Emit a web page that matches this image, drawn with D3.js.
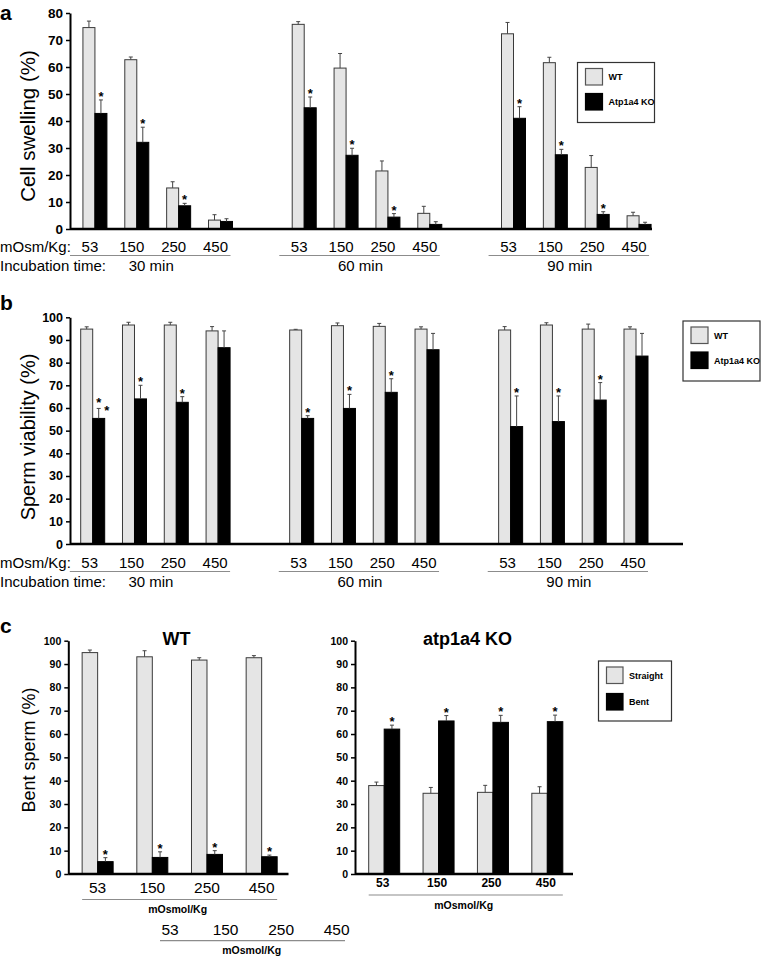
<!DOCTYPE html>
<html><head><meta charset="utf-8">
<script src="https://cdn.jsdelivr.net/npm/d3@7"></script>
<style>
html,body{margin:0;padding:0;background:#fff;}
svg{display:block;}
text{font-family:"Liberation Sans", Arial, sans-serif;fill:#000;}
</style></head>
<body>
<svg id="chart" width="762" height="959"></svg>
<script>
// ---------- DATA ----------
const osmolalities = ["53", "150", "250", "450"];
const incubationTimes = ["30 min", "60 min", "90 min"];

// Panel a: cell swelling (%) — order: 30 min (53,150,250,450), 60 min, 90 min
const swellWT     = [74.6, 62.7, 15.2, 3.3,  75.8, 59.6, 21.5, 5.8,  72.3, 61.6, 22.8, 4.9];
const swellWTErr  = [2.4, 1.0, 2.3, 2.0,     1.0, 5.4, 3.7, 2.6,     4.2, 2.0, 4.4, 1.3];
const swellKO     = [42.8, 32.1, 8.6, 2.8,   44.9, 27.3, 4.4, 1.7,   41.0, 27.5, 5.4, 1.7];
const swellKOErr  = [5.0, 5.6, 0.9, 1.0,     4.0, 2.6, 1.3, 1.0,     4.3, 2.0, 1.0, 0.8];
const swellStars  = [1, 1, 1, 0,  1, 1, 1, 0,  1, 1, 1, 0];

// Panel b: sperm viability (%)
const viabWT      = [94.8, 96.6, 96.6, 94.0,  94.4, 96.3, 96.0, 94.8,  94.4, 96.6, 94.8, 94.8];
const viabWTErr   = [1.0, 1.2, 1.2, 1.9,      0.3, 1.2, 1.3, 1.0,      1.5, 1.0, 2.2, 1.0];
const viabKO      = [55.4, 64.0, 62.5, 86.6,  55.4, 59.8, 66.9, 85.7,  51.8, 54.0, 63.5, 82.9];
const viabKOErr   = [4.4, 6.0, 2.5, 7.4,      1.2, 6.2, 6.0, 7.2,      13.5, 11.3, 7.7, 10.0];
const viabStars   = [2, 1, 1, 0,  1, 1, 1, 0,  1, 1, 1, 0];

// Panel c: bent sperm (%)
const wtStraight     = [94.9, 93.1, 91.7, 92.7];
const wtStraightErr  = [1.1, 2.6, 1.0, 0.9];
const wtBent         = [5.3, 7.1, 8.4, 7.4];
const wtBentErr      = [1.7, 2.4, 1.6, 0.7];
const wtBentStars    = [1, 1, 1, 1];
const koStraight     = [37.9, 34.6, 35.0, 34.6];
const koStraightErr  = [1.5, 2.5, 3.0, 2.8];
const koBent         = [62.1, 65.6, 65.0, 65.3];
const koBentErr      = [1.7, 2.3, 3.0, 2.8];
const koBentStars    = [1, 1, 1, 1];

const ticksA = d3.range(0, 81, 10);
const ticksB = d3.range(0, 101, 10);
const ticksC = d3.range(0, 101, 10);

const legendAB = ["WT", "Atp1a4 KO"];
const legendC = ["Straight", "Bent"];

// ---------- STYLE ----------
const FONT = '"Liberation Sans", Arial, sans-serif';
const LIGHT = "#e5e5e5";
const OUTLINE = "#3a3a3a";
const UNDER = "#8c8c8c";

const svg = d3.select("#chart");

function yAxis(g, y, x0, ticks, fontSize) {
  const ax = g.append("g").attr("transform", `translate(${x0},0)`)
    .call(d3.axisLeft(y).tickValues(ticks).tickSize(4).tickSizeOuter(0).tickPadding(3).tickFormat(d3.format("d")));
  ax.select(".domain").attr("stroke", "#000").attr("stroke-width", 2);
  ax.selectAll(".tick line").attr("stroke", "#000").attr("stroke-width", 1.5);
  ax.selectAll(".tick text").attr("font-family", FONT).attr("font-weight", "bold")
    .attr("font-size", fontSize).attr("fill", "#000");
  return ax;
}

function drawBar(g, cx, w, y, v, err, fill, stars) {
  const y0 = y(0);
  g.append("rect").attr("x", cx - w / 2).attr("y", y(v)).attr("width", w)
    .attr("height", y0 - y(v)).attr("fill", fill)
    .attr("stroke", fill === "#000" ? "#000" : OUTLINE).attr("stroke-width", 1);
  const yt = y(v + err);
  g.append("line").attr("x1", cx).attr("x2", cx).attr("y1", y(v)).attr("y2", yt)
    .attr("stroke", "#444").attr("stroke-width", 1);
  g.append("line").attr("x1", cx - 2).attr("x2", cx + 2).attr("y1", yt).attr("y2", yt)
    .attr("stroke", "#444").attr("stroke-width", 1);
  if (stars === 1) {
    g.append("text").attr("x", cx).attr("y", yt + 1).attr("text-anchor", "middle")
      .attr("font-size", 13).attr("font-weight", "bold").text("*");
  } else if (stars === 2) {
    g.append("text").attr("x", cx).attr("y", yt - 1).attr("text-anchor", "middle")
      .attr("font-size", 13).attr("font-weight", "bold").text("*");
    g.append("text").attr("x", cx + 8).attr("y", yt + 7).attr("text-anchor", "middle")
      .attr("font-size", 13).attr("font-weight", "bold").text("*");
  }
}

function legend(g, x, y, w, h, labels, sw, sh, gap, fs) {
  g.append("rect").attr("x", x).attr("y", y).attr("width", w).attr("height", h)
    .attr("fill", "#fff").attr("stroke", "#333").attr("stroke-width", 1.2);
  labels.forEach((lab, i) => {
    const ry = y + 6 + i * gap;
    g.append("rect").attr("x", x + 8).attr("y", ry).attr("width", sw).attr("height", sh)
      .attr("fill", i === 0 ? LIGHT : "#000").attr("stroke", i === 0 ? "#555" : "#000").attr("stroke-width", 1.2);
    g.append("text").attr("x", x + 8 + sw + 6).attr("y", ry + sh / 2 + 3.5)
      .attr("font-size", fs).attr("font-weight", "bold").text(lab);
  });
}

// Slot keys for the time-course panels
const slots = [];
incubationTimes.forEach((t, ti) => {
  osmolalities.forEach(o => slots.push(t + "|" + o));
  if (ti < incubationTimes.length - 1) slots.push("gap" + ti);
});

function timeCourse(cfg) {
  const g = svg.append("g");
  const x = d3.scaleBand().domain(slots).range(cfg.xRange).padding(0);
  const y = d3.scaleLinear().domain(cfg.yDomain).range(cfg.yRange);
  const bw = 12;
  incubationTimes.forEach((t, ti) => {
    osmolalities.forEach((o, oi) => {
      const i = ti * 4 + oi;
      const c = x(t + "|" + o) + x.bandwidth() / 2;
      drawBar(g, c - bw / 2, bw, y, cfg.wt[i], cfg.wtErr[i], LIGHT, 0);
      drawBar(g, c + bw / 2, bw, y, cfg.ko[i], cfg.koErr[i], "#000", cfg.stars[i]);
    });
  });
  // baseline
  g.append("line").attr("x1", cfg.axisX).attr("x2", cfg.baseEnd).attr("y1", y(0)).attr("y2", y(0))
    .attr("stroke", "#000").attr("stroke-width", 2.5);
  yAxis(g, y, cfg.axisX, cfg.ticks, cfg.tickFont);
  // y title
  g.append("text").attr("transform", `translate(35,${cfg.titleY}) rotate(-90)`)
    .attr("text-anchor", "middle").attr("font-size", cfg.titleSize).text(cfg.title);
  // panel letter
  g.append("text").attr("x", 0).attr("y", cfg.letterY).attr("font-size", 21)
    .attr("font-weight", "bold").text(cfg.letter);
  // x labels
  const ly = cfg.labelY;
  g.append("text").attr("x", 0).attr("y", ly).attr("font-size", 15).text("mOsm/Kg:");
  g.append("text").attr("x", 0).attr("y", ly + 18.5).attr("font-size", 15).text("Incubation time:");
  incubationTimes.forEach((t, ti) => {
    osmolalities.forEach(o => {
      const c = x(t + "|" + o) + x.bandwidth() / 2 + cfg.labelShift;
      g.append("text").attr("x", c).attr("y", ly).attr("text-anchor", "middle")
        .attr("font-size", 15).text(o);
    });
    const xs = x(t + "|" + osmolalities[0]) + cfg.underStart;
    const xe = x(t + "|" + osmolalities[3]) + x.bandwidth() / 2 + cfg.labelShift + 15;
    g.append("line").attr("x1", xs).attr("x2", xe).attr("y1", ly + 3.5).attr("y2", ly + 3.5)
      .attr("stroke", UNDER).attr("stroke-width", 1.2);
    g.append("text").attr("x", (xs + xe) / 2 + 1).attr("y", ly + 18.5).attr("text-anchor", "middle")
      .attr("font-size", 15).text(t);
  });
  legend(g, cfg.leg[0], cfg.leg[1], cfg.leg[2], cfg.leg[3], legendAB, 17, 16.5, 25, 9);
}

timeCourse({
  xRange: [74, 660], yDomain: [0, 80], yRange: [229, 13], axisX: 70, baseEnd: 652,
  wt: swellWT, wtErr: swellWTErr, ko: swellKO, koErr: swellKOErr, stars: swellStars,
  ticks: ticksA, tickFont: 13.5, title: "Cell swelling (%)", titleY: 126, titleSize: 20.5,
  letter: "a", letterY: 19.5, labelY: 252, labelShift: -5, underStart: -4,
  leg: [577.5, 62.5, 77, 60]
});

timeCourse({
  xRange: [71.8, 656.9], yDomain: [0, 100], yRange: [544, 317.3], axisX: 70, baseEnd: 683,
  wt: viabWT, wtErr: viabWTErr, ko: viabKO, koErr: viabKOErr, stars: viabStars,
  ticks: ticksB, tickFont: 12.5, title: "Sperm viability (%)", titleY: 437, titleSize: 20,
  letter: "b", letterY: 310, labelY: 568, labelShift: -3, underStart: -2,
  leg: [683, 321, 77, 60]
});

// ---------- Panel c ----------
function bentPanel(cfg) {
  const g = svg.append("g");
  const x = d3.scaleBand().domain(osmolalities).range(cfg.xRange).padding(0);
  const y = d3.scaleLinear().domain([0, 100]).range([874, 640.7]);
  const bw = 15.5;
  osmolalities.forEach((o, i) => {
    const c = x(o) + x.bandwidth() / 2;
    drawBar(g, c - bw / 2, bw, y, cfg.straight[i], cfg.straightErr[i], LIGHT, 0);
    drawBar(g, c + bw / 2, bw, y, cfg.bent[i], cfg.bentErr[i], "#000", cfg.stars[i]);
    g.append("text").attr("x", c + cfg.labelShift).attr("y", cfg.labelY).attr("text-anchor", "middle")
      .attr("font-size", cfg.labelSize).attr("font-weight", cfg.labelWeight).text(o);
  });
  g.append("line").attr("x1", cfg.axisX).attr("x2", cfg.baseEnd).attr("y1", y(0)).attr("y2", y(0))
    .attr("stroke", "#000").attr("stroke-width", 2.5);
  yAxis(g, y, cfg.axisX, ticksC, 10.5);
  const xs = x(osmolalities[0]) + x.bandwidth() / 2 - bw;
  const xe = x(osmolalities[3]) + x.bandwidth() / 2 + bw;
  g.append("line").attr("x1", xs).attr("x2", xe).attr("y1", cfg.underY).attr("y2", cfg.underY)
    .attr("stroke", UNDER).attr("stroke-width", 1.2);
  g.append("text").attr("x", (xs + xe) / 2 - 2).attr("y", cfg.underY + 13.5).attr("text-anchor", "middle")
    .attr("font-size", 10.5).attr("font-weight", "bold").text("mOsmol/Kg");
  g.append("text").attr("x", cfg.titleX).attr("y", 645).attr("text-anchor", "middle")
    .attr("font-size", 18).attr("font-weight", "bold").text(cfg.title);
  return g;
}

const gcL = bentPanel({
  xRange: [70.3, 289], axisX: 68.3, baseEnd: 288.5,
  straight: wtStraight, straightErr: wtStraightErr, bent: wtBent, bentErr: wtBentErr, stars: wtBentStars,
  labelY: 893, labelSize: 15.5, labelWeight: "normal", labelShift: 0, underY: 899.5,
  title: "WT", titleX: 176.5
});
const gcR = bentPanel({
  xRange: [357, 574.5], axisX: 355, baseEnd: 573,
  straight: koStraight, straightErr: koStraightErr, bent: koBent, bentErr: koBentErr, stars: koBentStars,
  labelY: 887, labelSize: 12, labelWeight: "bold", labelShift: -1.5, underY: 895,
  title: "atp1a4 KO", titleX: 467.5
});

// y title & letter for c
svg.append("text").attr("transform", "translate(35,750) rotate(-90)")
  .attr("text-anchor", "middle").attr("font-size", 18).text("Bent sperm (%)");
svg.append("text").attr("x", 0).attr("y", 633).attr("font-size", 21)
  .attr("font-weight", "bold").text("c");

legend(svg, 598.5, 661, 73, 60, legendC, 16.5, 16.5, 26.5, 9);

// extra osmolality label row under panel c
const xExtra = d3.scalePoint().domain(osmolalities).range([170, 336.7]);
osmolalities.forEach(o => {
  svg.append("text").attr("x", xExtra(o)).attr("y", 935).attr("text-anchor", "middle")
    .attr("font-size", 15.5).text(o);
});
svg.append("line").attr("x1", 160).attr("x2", 345).attr("y1", 940.7).attr("y2", 940.7)
  .attr("stroke", UNDER).attr("stroke-width", 1.2);
svg.append("text").attr("x", 251.7).attr("y", 954.3).attr("text-anchor", "middle")
  .attr("font-size", 10.5).attr("font-weight", "bold").text("mOsmol/Kg");
</script>
</body></html>
